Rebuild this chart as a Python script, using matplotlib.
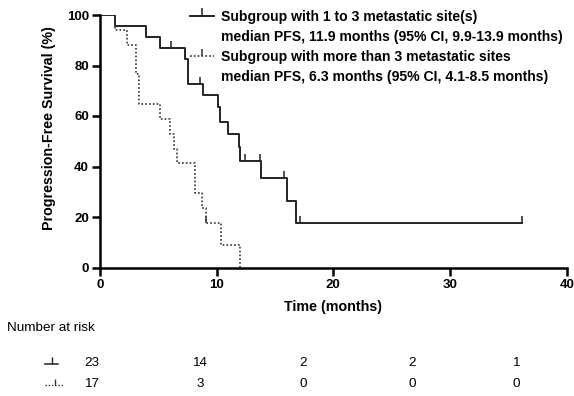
import matplotlib.pyplot as plt
from matplotlib.lines import Line2D

plt.rcParams['font.family'] = ['Liberation Sans', 'DejaVu Sans']

# Kaplan-Meier steps (months, % progression-free)
low_t = [0, 1.3, 3.9, 5.1, 7.3, 7.5, 8.8, 10.1, 10.3, 11.0, 11.9, 12.0, 13.8, 16.0, 16.8, 36.2]
low_s = [100, 95.7, 91.3, 87.0, 82.6, 72.8, 68.2, 63.6, 57.6, 52.8, 47.7, 42.2, 35.3, 26.4, 17.7, 17.7]
low_cens_t = [6.1, 8.6, 12.4, 13.7, 15.8, 17.1, 36.2]
low_cens_s = [87.0, 72.8, 42.2, 42.2, 35.3, 17.7, 17.7]

high_t = [0, 1.3, 2.3, 3.1, 3.3, 5.1, 6.0, 6.3, 6.6, 8.1, 8.7, 9.05, 10.4, 12.0]
high_s = [100, 94.1, 88.2, 76.5, 64.7, 58.8, 52.9, 47.1, 41.2, 29.4, 23.5, 17.6, 8.8, 0]
high_cens_t = [9.1]
high_cens_s = [17.6]

risk_low = [23, 14, 2, 2, 1]
risk_high = [17, 3, 0, 0, 0]

lab_low = ["Subgroup with 1 to 3 metastatic site(s)",
           "median PFS, 11.9 months (95% CI, 9.9-13.9 months)"]
lab_high = ["Subgroup with more than 3 metastatic sites",
            "median PFS, 6.3 months (95% CI, 4.1-8.5 months)"]

fig = plt.figure(figsize=(5.74, 3.96), dpi=100)
ax = fig.add_axes([100 / 574, 1 - 267.5 / 396, 466.7 / 574, 252.5 / 396])

dots = (0, (1, 1.3))
ax.step(low_t, low_s, where='post', color='#222222', lw=1.4)
ax.plot(low_cens_t, low_cens_s, ls='none', marker=2, ms=5, mew=1.1, color='#222222')
ax.step(high_t, high_s, where='post', color='#333333', lw=1.2, ls=dots)
ax.plot(high_cens_t, high_cens_s, ls='none', marker=2, ms=5, mew=1.1, color='#333333')

ax.set_xlim(0, 40)
ax.set_ylim(0, 100)
ax.set_xticks([0, 10, 20, 30, 40])
ax.set_yticks([0, 20, 40, 60, 80, 100])
for s in ['top', 'right']:
    ax.spines[s].set_visible(False)
for s in ['left', 'bottom']:
    ax.spines[s].set_linewidth(1.8)
ax.tick_params(width=1.8, length=6, labelsize=9.5, pad=2)
for lb in ax.get_xticklabels() + ax.get_yticklabels():
    lb.set_fontweight('bold')
ax.set_xlabel("Time (months)", fontsize=10.3, fontweight='bold', labelpad=7)
ax.set_ylabel("Progression-Free Survival (%)", fontsize=10.3, fontweight='bold', labelpad=3)
ax.yaxis.set_label_coords(-44 / 466.7, 0.552)

h_low = Line2D([], [], color='#222222', lw=1.4, marker=2, ms=6, mew=1.1)
h_high = Line2D([], [], color='#333333', lw=1.2, ls=dots, marker=2, ms=5, mew=1.1)
h_none = Line2D([], [], ls='none')
leg = fig.legend([h_low, h_none, h_high, h_none], lab_low + lab_high,
                 loc='upper left', bbox_to_anchor=(190 / 574, 1 - 10 / 396),
                 frameon=False, borderpad=0, borderaxespad=0, numpoints=1,
                 handlelength=1.7, handletextpad=0.5, labelspacing=0.42,
                 prop={'weight': 'bold', 'size': 10.1})

# number at risk table
fig.text(7 / 574, 1 - 328 / 396, "Number at risk", fontsize=9.7, va='center')
col_x = [92, 200, 303, 412, 516]
row_y = [363, 384]
for vals, y in zip([risk_low, risk_high], row_y):
    for v, x in zip(vals, col_x):
        fig.text(x / 574, 1 - y / 396, str(v), fontsize=9.7, ha='center', va='center')
fig.add_artist(Line2D([45 / 574, 58 / 574], [1 - 364 / 396] * 2, transform=fig.transFigure,
                      color='#222222', lw=1.1))
fig.add_artist(Line2D([51.5 / 574], [1 - 364 / 396], transform=fig.transFigure,
                      color='#222222', marker=2, ms=5, mew=1.0))
fig.add_artist(Line2D([45 / 574, 64 / 574], [1 - 385 / 396] * 2, transform=fig.transFigure,
                      color='#333333', lw=1.0, ls=dots))
fig.add_artist(Line2D([54.5 / 574], [1 - 385 / 396], transform=fig.transFigure,
                      color='#333333', marker=2, ms=4, mew=1.0))

fig.savefig("out.png", dpi=100)
